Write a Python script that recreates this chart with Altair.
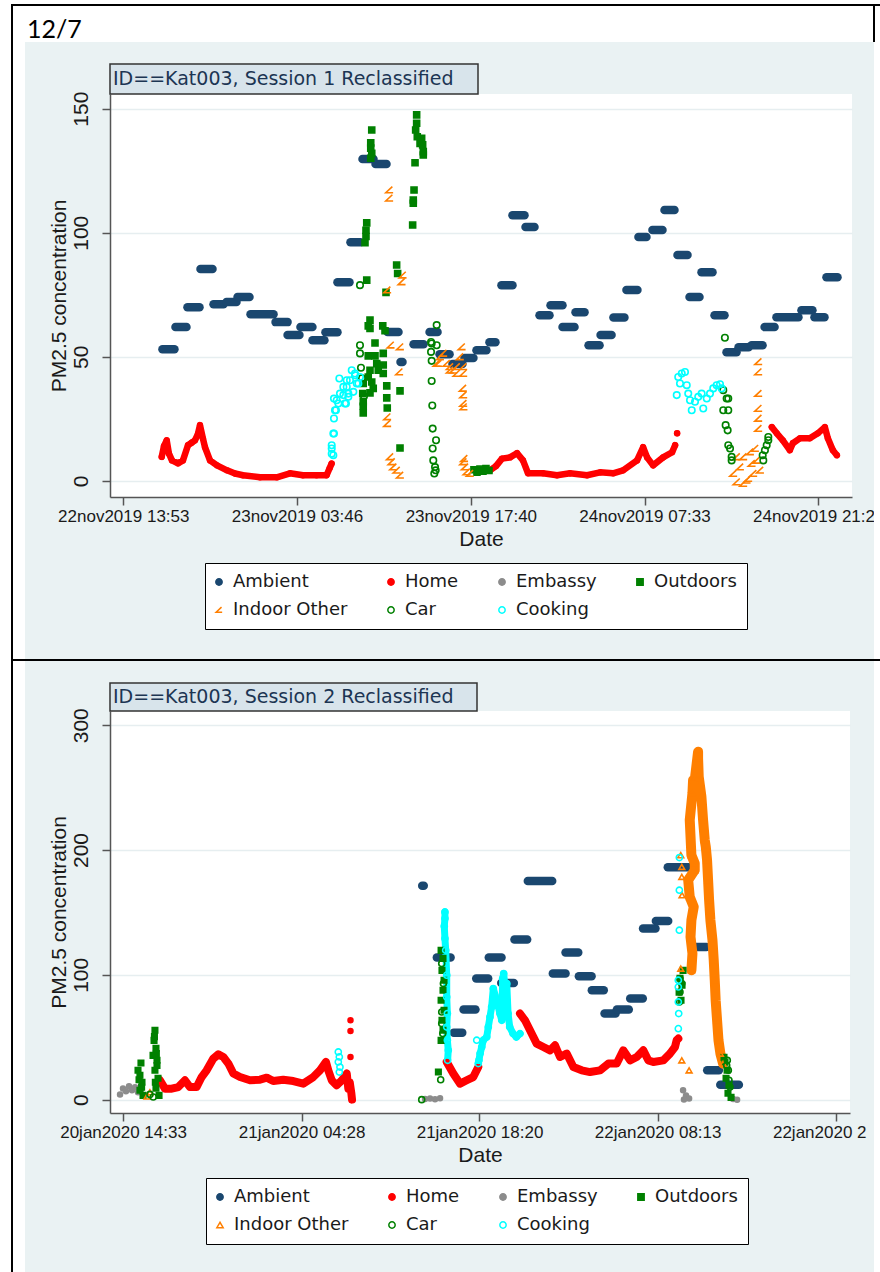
import altair as alt
import pandas as pd

# ------------------------------------------------------------------ categories / styles
CATS = ["Ambient", "Home", "Embassy", "Outdoors", "Indoor Other", "Car", "Cooking"]
FILLS = ["#1a476f", "#ff0000", "#8c8c8c", "#008000", "transparent", "transparent", "transparent"]
STROKES = ["#1a476f", "#ff0000", "#8c8c8c", "#008000", "#ff7f00", "#008000", "#00ffff"]
ANGLE = "M 0.8 -0.9 L -0.9 0.7 L 1 0.7"
SHAPES1 = ["circle", "circle", "circle", "square", ANGLE, "circle", "circle"]
SHAPES2 = ["circle", "circle", "circle", "square", "triangle-up", "circle", "circle"]
SIZES1 = [60, 22, 22, 36, 60, 42, 42]
SIZES2 = [60, 24, 24, 30, 34, 36, 38]

# ------------------------------------------------------------------ panel 1 data (hours after first tick, PM2.5)
P1_TITLE = "ID==Kat003, Session 1 Reclassified"
P1_TICK_TIMES = ["22nov2019 13:53", "23nov2019 03:46", "23nov2019 17:40", "24nov2019 07:33", "24nov2019 21:26"]
P1_TICK_TEXT = ["22nov2019 13:53", "23nov2019 03:46", "23nov2019 17:40", "24nov2019 07:33", "24nov2019 21:2"]
P1_Y_TICKS = [0, 50, 100, 150]

P1_AMB_START = [3.13, 4.17, 5.13, 6.17, 7.21, 8.25, 9.13, 10.17, 12.17, 13.13, 14.16, 15.12, 16.16, 17.12, 18.16, 19.12,
                20.16, 21.12, 22.16, 23.20, 24.48, 25.28, 26.31, 27.27, 28.23, 29.27, 30.23, 31.11, 32.15, 33.27, 34.15, 35.11,
                36.15, 37.19, 38.15, 39.18, 40.22, 41.18, 42.30, 43.26, 44.30, 45.26, 46.22, 47.26, 48.22, 49.18, 50.22, 51.26,
                52.21, 54.21, 55.25, 56.21]
P1_AMB_END = [4.09, 5.05, 6.09, 7.13, 8.01, 9.05, 10.09, 12.01, 13.13, 14.08, 15.12, 16.08, 17.12, 18.08, 18.96, 20.00,
              21.04, 22.00, 22.32, 24.00, 25.12, 26.08, 27.11, 27.99, 29.03, 29.75, 31.11, 32.07, 32.87, 34.07, 35.11, 36.07,
              36.87, 38.07, 39.03, 40.06, 41.10, 41.82, 43.10, 44.06, 45.10, 46.06, 47.10, 48.06, 49.02, 49.98, 51.10, 52.06,
              53.97, 55.09, 56.05, 57.09]
P1_AMB_VAL = [53.1, 62.0, 70.0, 85.4, 71.2, 72.1, 74.1, 67.2, 64.0, 58.8, 62.0, 56.7, 59.9, 80.1, 96.2, 129.7,
              127.7, 60.0, 47.9, 55.1, 60.0, 51.1, 47.1, 49.5, 52.7, 55.9, 78.9, 107.1, 102.3, 66.8, 70.8, 62.0,
              68.0, 54.7, 58.8, 65.9, 76.9, 98.3, 101.1, 109.2, 91.0, 74.1, 84.1, 66.8, 51.9, 53.9, 54.7, 62.0,
              66.0, 68.8, 66.0, 82.1]

P1_HOME_H = [3.07, 3.25, 3.47, 3.65, 3.89, 4.37, 4.77, 5.17, 5.49, 5.73, 5.97, 6.13, 6.37, 6.53, 6.93, 7.49, 8.29, 8.93,
             9.57, 10.93, 12.27, 13.32, 14.36, 15.45, 16.25, 16.49, 16.65,
             29.31, 29.79, 30.27, 30.91, 31.47, 31.95, 32.35, 33.55, 34.67, 35.71, 37.07, 38.11, 39.15, 39.95, 41.07,
             41.55, 41.87, 42.35, 43.15, 43.87, 44.11,
             44.27,
             51.84, 52.24, 52.72, 53.28, 53.52, 54.08, 54.88, 55.52, 56.08, 56.32, 56.72, 57.04]
P1_HOME_V = [9.7, 14.0, 16.4, 11.0, 8.3, 7.1, 8.3, 14.4, 15.5, 16.4, 19.0, 22.5, 17.0, 13.6, 8.3, 6.3, 4.3, 3.0,
             2.3, 1.5, 1.5, 3.1, 2.3, 2.3, 2.3, 5.1, 7.0,
             4.3, 6.0, 9.0, 9.5, 11.2, 8.3, 3.1, 3.1, 2.3, 3.1, 2.3, 3.5, 3.1, 4.3, 8.3,
             13.6, 9.5, 6.3, 9.5, 11.6, 14.4,
             19.2,
             21.7, 19.2, 16.4, 12.4, 15.2, 17.2, 17.2, 19.2, 21.7, 17.2, 12.4, 10.4]
P1_HOME_SEG = [0] * 27 + [1] * 21 + [2] + [3] * 12

P1_OUT_H = [19.86, 19.78, 19.78, 19.86, 19.78, 19.46, 19.40, 19.40, 19.32, 19.46, 21.85, 21.93, 21.00, 19.72, 19.58,
            19.72, 20.74, 20.92, 20.12, 19.58, 20.12, 20.78, 20.26, 20.78, 20.38, 19.72, 20.78, 19.58, 19.86, 19.18,
            19.98, 19.72, 19.14, 19.18, 19.18, 19.18, 21.06, 21.06, 21.10, 22.12, 22.12, 23.32, 23.45, 23.45, 23.37,
            23.50, 23.85, 23.72, 23.93, 23.98, 23.98, 23.24, 23.18, 23.18, 23.13,
            28.03, 28.27, 28.51, 28.75, 28.99, 29.23]
P1_OUT_V = [141.4, 136.2, 134.1, 132.0, 130.0, 104.0, 101.0, 98.5, 96.0, 80.9, 87.0, 83.6, 76.0, 64.8, 62.5,
            61.5, 62.5, 60.5, 55.6, 50.4, 50.4, 51.4, 47.3, 46.7, 44.6, 44.6, 43.3, 41.9, 39.9, 39.3,
            37.3, 35.5, 35.2, 31.9, 30.1, 27.4, 38.3, 33.5, 29.4, 36.3, 13.3, 128.2, 147.5, 144.1, 141.4,
            138.7, 138.1, 136.0, 135.4, 132.7, 131.3, 117.2, 113.2, 111.9, 103.1,
            4.5, 3.5, 4.8, 3.9, 5.0, 4.2]

P1_IND_H = [21.26, 21.26, 22.33, 22.25, 21.10, 21.37, 22.12, 22.06, 21.10, 21.10, 21.32, 21.45, 21.58, 21.85, 22.12,
            25.32, 25.58, 25.85, 26.11, 26.38, 26.65, 26.91, 27.05, 27.18, 25.05, 25.18, 26.11, 26.65, 27.18,
            27.15, 27.18, 27.18, 27.20, 27.18, 27.31, 27.45, 27.71, 27.25,
            50.76, 50.76, 50.76, 50.76, 50.76, 50.76, 48.76, 49.03, 49.30, 49.56, 49.83, 50.10, 50.23, 50.36, 50.63,
            50.90, 49.56, 49.96, 49.03, 50.50]
P1_IND_V = [117.2, 113.9, 82.9, 80.2, 76.9, 54.7, 54.0, 43.9, 25.8, 23.1, 9.7, 7.7, 5.6, 4.3, 2.3,
            50.0, 51.4, 47.3, 46.0, 44.6, 46.0, 50.0, 54.0, 46.0, 47.3, 47.3, 44.6, 43.3, 43.3,
            37.3, 34.6, 31.2, 29.8, 7.7, 5.6, 3.6, 3.0, 9.0,
            48.0, 43.9, 35.2, 29.2, 25.2, 21.1, 3.0, -0.4, 5.6, 9.7, 0.3, 11.7, 7.0, 3.0, 8.3,
            4.3, -1.0, 1.0, 9.7, 13.1]

P1_CAR_H = [18.92, 18.92, 18.92, 19.00, 19.08, 19.24,
            25.05, 24.65, 25.05, 24.60, 24.65, 24.65, 24.70, 24.73, 25.00, 24.73, 24.78, 24.92, 24.86, 24.97, 24.60,
            48.09, 47.96, 48.23, 48.36, 47.96, 48.36, 48.15, 48.31, 48.36, 48.50, 48.63, 48.63,
            51.16, 51.11, 51.29, 51.43, 51.56, 51.56]
P1_CAR_V = [78.9, 54.7, 51.4, 45.6, 41.4, 34.1,
            62.8, 55.4, 54.7, 52.0, 48.4, 40.3, 30.4, 21.1, 16.4, 13.1, 8.3, 5.6, 3.0, 4.3, 56.0,
            57.7, 36.6, 33.2, 33.2, 28.5, 28.5, 22.5, 20.4, 14.4, 13.1, 9.7, 8.3,
            8.3, 10.4, 12.4, 14.4, 17.7, 16.4]

P1_COOK_H = [16.66, 16.66, 16.66, 16.84, 16.84, 17.00, 16.84, 17.19, 17.32, 17.27, 17.59, 17.86, 17.99, 17.80, 18.26,
             18.52, 18.66, 16.79, 16.79, 16.92, 17.06, 17.72, 17.86, 18.12, 18.39, 18.79, 18.92, 17.59, 17.99, 18.52,
             44.24, 44.36, 44.64, 44.90, 44.50, 45.04, 45.16, 45.30, 45.44, 45.70, 45.96, 46.23, 46.36, 46.64, 46.90,
             47.16, 47.43, 47.70, 47.83]
P1_COOK_V = [11.0, 13.1, 14.4, 19.1, 25.2, 28.5, 33.2, 31.2, 35.2, 41.3, 37.9, 40.6, 35.2, 31.2, 44.6,
             42.6, 39.3, 10.4, 19.1, 28.5, 32.5, 31.2, 37.9, 40.6, 35.9, 39.3, 41.9, 34.6, 33.9, 43.3,
             34.6, 41.9, 43.3, 43.9, 39.3, 38.6, 35.2, 32.5, 28.5, 31.9, 33.9, 35.2, 29.2, 33.2, 35.2,
             37.3, 38.6, 39.0, 37.3]

# ------------------------------------------------------------------ panel 2 data
P2_TITLE = "ID==Kat003, Session 2 Reclassified"
P2_TICK_TIMES = ["20jan2020 14:33", "21jan2020 04:28", "21jan2020 18:20", "22jan2020 08:13", "22jan2020 22:06"]
P2_TICK_TEXT = ["20jan2020 14:33", "21jan2020 04:28", "21jan2020 18:20", "22jan2020 08:13", "22jan2020 2"]
P2_Y_TICKS = [0, 100, 200, 300]

P2_AMB_START = [23.32, 24.46, 25.78, 26.54, 27.53, 28.51, 29.48, 30.51, 31.55, 33.50, 34.49, 35.53, 36.54, 37.53,
                38.49, 39.53, 40.53, 41.53, 42.46, 44.54, 45.53, 46.55]
P2_AMB_END = [23.44, 25.53, 26.44, 27.47, 28.46, 29.50, 30.46, 31.50, 33.45, 34.49, 35.48, 36.52, 37.47, 38.39,
              39.42, 40.51, 41.50, 42.49, 44.54, 45.46, 46.44, 48.00]
P2_AMB_VAL = [171.3, 113.9, 53.7, 72.2, 97.0, 113.9, 93.5, 128.3, 175.1, 101.0, 117.9, 98.9, 87.6, 69.0,
              72.2, 81.0, 137.1, 143.2, 186.3, 122.4, 23.5, 12.0]

P2_HOME_H = [2.88, 3.27, 3.80, 4.31, 4.83, 5.22, 5.74, 6.13, 6.52, 7.04, 7.43, 7.82, 8.21, 8.60, 9.12, 9.90, 10.68,
             11.20, 11.71, 12.49, 13.27, 14.05, 14.83, 15.35, 15.82, 16.00, 16.27, 16.66, 17.05, 17.44, 17.56, 17.67,
             17.80, 17.85,
             17.73, 17.73, 17.73,
             25.23, 25.74, 26.27, 26.79, 27.30, 27.69,
             30.94, 31.33, 31.72, 32.24, 32.76, 33.28, 33.67, 34.06, 34.58, 35.10, 35.75, 36.40, 37.18, 37.83, 38.48,
             38.99, 39.52, 40.04, 40.55, 40.94, 41.33, 42.11, 42.63, 43.02, 43.15, 43.28]
P2_HOME_V = [15.5, 8.8, 8.8, 10.1, 15.5, 10.1, 10.1, 18.1, 23.5, 32.9, 36.3, 34.2, 28.9, 20.9, 18.1, 15.5, 16.0,
             17.6, 14.9, 16.0, 14.9, 12.8, 18.1, 23.5, 30.2, 23.5, 15.5, 11.5, 15.5, 20.9, 8.8, 14.1,
             4.8, 0.0,
             63.6, 55.0, 34.2,
             30.2, 20.9, 12.8, 15.5, 18.1, 26.1,
             69.0, 63.6, 55.6, 44.9, 42.2, 39.5, 43.5, 34.2, 36.9, 26.1, 23.5, 22.1, 23.5, 28.9, 28.9,
             39.5, 31.5, 34.2, 39.5, 31.5, 30.2, 31.5, 36.9, 42.2, 47.6, 48.9]
P2_HOME_SEG = [0] * 34 + [-1] * 3 + [1] * 6 + [2] * 26

P2_EMB_H = [-0.23, 0.00, 0.23, 0.47, 0.70, 0.94, 1.17, 1.40, 23.54, 23.93, 24.32, 24.71, 43.65, 43.88, 44.12, 43.72,
            47.55, 47.86]
P2_EMB_V = [4.2, 9.0, 6.7, 10.7, 7.5, 9.9, 5.9, 8.3, 0.5, 1.0, 0.3, 1.2, 7.5, 3.4, 1.0, 0.2, 0.5, 0.0]

P2_OUT_H = [1.32, 1.48, 1.32, 1.56, 1.17, 1.40, 1.25, 1.45, 2.42, 2.49, 2.57, 2.65, 2.49, 2.73, 2.57, 2.81, 2.34, 2.65,
            2.45, 2.60, 2.52,
            24.58, 24.79, 24.94, 24.86, 25.02, 24.79, 24.94, 25.02, 24.86, 24.94, 24.79,
            43.34, 43.41, 43.49, 43.57, 43.65,
            46.84, 46.92, 47.08, 47.00, 47.23, 47.15, 47.39]
P2_OUT_V = [19.5, 13.9, 7.5, 3.4, 23.5, 29.3, 16.0, 10.0, 47.5, 55.6, 41.1, 31.5, 23.5, 17.1, 9.1, 3.4, 35.5, 27.4,
            50.5, 37.0, 14.0,
            22.1, 47.5, 55.6, 63.6, 71.6, 79.6, 87.6, 95.6, 103.6, 113.2, 119.6,
            86.0, 97.2, 79.6, 91.6, 103.6,
            33.9, 29.9, 23.5, 17.1, 11.5, 5.1, 1.8]

P2_IND_H = [1.87, 2.10,
            43.47, 43.55, 43.55, 43.57, 43.47, 43.55, 44.12,
            44.30, 44.38, 44.23, 44.30, 44.48, 44.17, 44.05, 44.56, 44.56, 44.30,
            44.17, 44.38, 44.43, 44.56, 44.82, 44.82, 44.87, 45.08, 45.21, 45.34, 45.42, 45.52, 45.60, 45.68, 45.78,
            45.94, 46.04, 46.12, 46.19, 46.30, 46.41, 46.56, 46.77]
P2_IND_V = [2.6, 5.9,
            195.9, 186.5, 178.5, 163.8, 105.0, 31.5, 23.5,
            103.7, 117.1, 130.4, 143.8, 154.5, 162.5, 175.9, 183.9, 189.3, 195.9,
            224.0, 245.4, 256.1, 256.1, 278.7, 273.5, 258.7, 242.7, 224.0, 207.9, 202.6, 191.9, 175.9, 159.8, 143.8,
            127.9, 111.7, 95.7, 79.6, 63.6, 47.6, 36.9, 28.9]
P2_IND_SEG = [-1] * 9 + [1] * 33

P2_CAR_H = [2.36, 2.10, 23.28, 24.76, 24.84, 24.97, 24.84, 24.84, 24.92, 43.41, 43.41, 43.36, 43.55,
            47.10, 47.18, 47.05, 47.23, 47.31]
P2_CAR_V = [2.1, 4.2, 0.0, 16.0, 109.0, 93.0, 70.2, 61.0, 52.9, 97.0, 86.3, 78.3, 93.0,
            31.5, 23.5, 27.5, 15.5, 10.1]

P2_COOK_H = [16.78, 16.86, 16.78, 16.91, 16.86,
             25.09, 25.09, 25.04, 25.09, 25.15, 25.23, 25.23, 25.28, 25.23, 25.28, 25.35, 25.30,
             27.57, 27.69, 27.74, 27.83, 27.96, 28.08, 28.35, 28.47, 28.60, 28.73, 28.86, 29.12, 29.38, 29.52, 29.59,
             29.67, 29.77, 29.91, 29.91, 30.01, 30.14, 30.40, 30.66, 30.94,
             43.36, 43.36, 43.36, 43.28, 43.28, 43.28, 43.31, 43.28]
P2_COOK_V = [38.2, 34.2, 30.2, 26.1, 22.1,
             150.4, 145.1, 139.0, 129.1, 119.7, 99.7, 82.3, 69.0, 58.2, 47.6, 39.5, 31.5,
             47.6, 28.9, 31.5, 36.9, 42.2, 47.6, 50.2, 58.2, 66.2, 74.3, 89.0, 79.6, 69.0, 63.6, 97.0,
             101.0, 90.3, 79.6, 93.0, 69.0, 58.2, 52.9, 50.2, 52.9,
             194.0, 167.8, 135.8, 95.7, 90.3, 78.3, 69.0, 56.9]
P2_COOK_SEG = [-1] * 5 + [3] * 12 + [-1] + [1] * 23 + [-1] * 8


# ------------------------------------------------------------------ helpers
def tick_hours(labels):
    t = pd.to_datetime(pd.Series(labels), format="%d%b%Y %H:%M")
    return [round((ti - t.iloc[0]).total_seconds() / 3600.0, 4) for ti in t]


def label_expr(ticks, labels):
    s = "''"
    for t, lab in reversed(list(zip(ticks, labels))):
        s = f"abs(datum.value - {t}) < 0.5 ? '{lab}' : {s}"
    return s


def points_frame(series, sizes):
    size_of = dict(zip(CATS, sizes))
    rows = []
    for cat, hs, vs in series:
        for h, v in zip(hs, vs):
            rows.append({"cat": cat, "h": h, "v": v, "sz": size_of[cat]})
    return pd.DataFrame(rows)


def line_frame(hs, vs, segs):
    rows = []
    for i, (h, v, s) in enumerate(zip(hs, vs, segs)):
        if s >= 0:
            rows.append({"h": h, "v": v, "seg": s, "i": i})
    return pd.DataFrame(rows)


ONE = pd.DataFrame({"k": [0]})


def rect(x, x2, y, y2, fill, stroke=None, sw=0):
    kw = dict(fill=fill, strokeWidth=sw)
    if stroke:
        kw["stroke"] = stroke
    return alt.Chart(ONE).mark_rect(**kw).encode(
        x=alt.value(x), x2=alt.value(x2), y=alt.value(y), y2=alt.value(y2))


def text(x, y, s, size, font, color, baseline="middle"):
    return alt.Chart(ONE).mark_text(text=s, align="left", baseline=baseline, fontSize=size,
                                    font=font, color=color).encode(x=alt.value(x), y=alt.value(y))


AXIS_COL = "#555555"
TXT = "#1a1a1a"


def panel(title, tick_times, tick_text, label_shift, y_ticks, xdom, ydom,
          amb, home_line, extra_lines, pts, shapes, legxy, title_box, home_w):
    ticks = tick_hours(tick_times)
    xenc = alt.X("h:Q", scale=alt.Scale(domain=xdom, nice=False, zero=False),
                 axis=alt.Axis(values=ticks, labelExpr=label_expr(ticks, tick_text), title="Date",
                               grid=False, domainColor=AXIS_COL, domainWidth=1.5, tickColor=AXIS_COL,
                               tickWidth=1.5, tickSize=8, labelFont="Liberation Sans", labelFontSize=17,
                               labelColor=TXT, labelPadding=3, labelOverlap=False, labelFlush=False,
                               labelAlign="left", labelOffset=label_shift,
                               titleFont="Liberation Sans", titleFontSize=21, titleFontWeight="normal",
                               titleColor=TXT, titlePadding=4))
    yenc = alt.Y("v:Q", scale=alt.Scale(domain=ydom, nice=False, zero=False),
                 axis=alt.Axis(values=y_ticks, format="d", title="PM2.5 concentration", grid=True,
                               gridColor="#e6eef0", gridWidth=1.5, domainColor=AXIS_COL, domainWidth=1.5,
                               tickColor=AXIS_COL, tickWidth=1.5, tickSize=8, labelAngle=270,
                               labelAlign="center", labelBaseline="bottom", labelPadding=11,
                               labelFont="Liberation Sans", labelFontSize=21, labelColor=TXT,
                               labelOverlap=False, labelFlush=False,
                               titleFont="Liberation Sans", titleFontSize=21, titleFontWeight="normal",
                               titleColor=TXT, titlePadding=1))

    layers = [alt.Chart(amb).mark_rule(strokeWidth=8.5, strokeCap="round", color="#1a476f").encode(
        x=xenc, x2="h2:Q", y=yenc)]
    layers.append(alt.Chart(home_line).mark_line(strokeWidth=home_w, color="#ff0000", strokeCap="round",
                                                 strokeJoin="round").encode(
        x="h:Q", y="v:Q", detail="seg:N", order="i:Q"))
    for df, col, w in extra_lines:
        layers.append(alt.Chart(df).mark_line(strokeWidth=w, color=col, strokeCap="round",
                                              strokeJoin="round").encode(
            x="h:Q", y="v:Q", detail="seg:N", order="i:Q"))
    leg = alt.Legend(title=None, orient="none", legendX=legxy[0], legendY=legxy[1], direction="horizontal",
                     columns=4, gridAlign="each", columnPadding=36, rowPadding=10, padding=10,
                     strokeColor="#000000", fillColor="#ffffff", labelFont="DejaVu Sans", labelFontSize=18,
                     labelColor=TXT, symbolSize=40, symbolStrokeWidth=1.5, labelOffset=5, symbolOffset=-5,
                     labelLimit=400)
    layers.append(alt.Chart(pts).mark_point(strokeWidth=1.6, opacity=1).encode(
        x="h:Q", y="v:Q",
        fill=alt.Fill("cat:N", scale=alt.Scale(domain=CATS, range=FILLS), legend=leg),
        stroke=alt.Stroke("cat:N", scale=alt.Scale(domain=CATS, range=STROKES), legend=leg),
        shape=alt.Shape("cat:N", scale=alt.Scale(domain=CATS, range=shapes), legend=leg),
        size=alt.Size("sz:Q", scale=None),
    ))
    bx, by = title_box
    layers.append(rect(0, bx, -by, 0, "#d8e4eb", "#333333", 1.5))
    layers.append(text(3, -by / 2, title, 19, "DejaVu Sans", "#1c3553"))
    return layers


# ------------------------------------------------------------------ frames
amb1 = pd.DataFrame({"h": P1_AMB_START, "h2": P1_AMB_END, "v": P1_AMB_VAL})
amb2 = pd.DataFrame({"h": P2_AMB_START, "h2": P2_AMB_END, "v": P2_AMB_VAL})

pts1 = points_frame([("Home", P1_HOME_H, P1_HOME_V), ("Outdoors", P1_OUT_H, P1_OUT_V),
                     ("Indoor Other", P1_IND_H, P1_IND_V), ("Car", P1_CAR_H, P1_CAR_V),
                     ("Cooking", P1_COOK_H, P1_COOK_V)], SIZES1)
pts2 = points_frame([("Home", P2_HOME_H, P2_HOME_V), ("Embassy", P2_EMB_H, P2_EMB_V),
                     ("Outdoors", P2_OUT_H, P2_OUT_V), ("Indoor Other", P2_IND_H, P2_IND_V),
                     ("Car", P2_CAR_H, P2_CAR_V), ("Cooking", P2_COOK_H, P2_COOK_V)], SIZES2)

home1 = line_frame(P1_HOME_H, P1_HOME_V, P1_HOME_SEG)
home2 = line_frame(P2_HOME_H, P2_HOME_V, P2_HOME_SEG)
ind2 = line_frame(P2_IND_H, P2_IND_V, P2_IND_SEG)
cook2 = line_frame(P2_COOK_H, P2_COOK_V, P2_COOK_SEG)

# ------------------------------------------------------------------ panel 1 (origin of plot area at page 110,94)
OX, OY = 110, 94
page = [
    rect(0 - OX, 880 - OX, 0 - OY, 42 - OY, "#ffffff"),          # white top margin
    rect(0 - OX, 25 - OX, 0 - OY, 1272 - OY, "#ffffff"),         # white left margin
    rect(874 - OX, 880 - OX, 0 - OY, 1272 - OY, "#ffffff"),      # white right margin
    rect(11 - OX, 13 - OX, 4 - OY, 1272 - OY, "#000000"),        # table borders
    rect(11 - OX, 880 - OX, 4 - OY, 6 - OY, "#000000"),
    rect(873 - OX, 875 - OX, 4 - OY, 42 - OY, "#000000"),
    rect(11 - OX, 880 - OX, 659 - OY, 661 - OY, "#000000"),
    text(27 - OX, 38 - OY, "12/7", 25, "Lato", "#000000", baseline="alphabetic"),
]

l1 = panel(P1_TITLE, P1_TICK_TIMES, P1_TICK_TEXT, -65.7, P1_Y_TICKS, [-1.063, 58.25], [-6.45, 155.9],
           amb1, home1, [], pts1, SHAPES1, (95, 469), (368, 30), 6.5)
p1 = alt.layer(*(page + l1)).properties(width=742, height=403)

l2 = panel(P2_TITLE, P2_TICK_TIMES, P2_TICK_TEXT, -63.3, P2_Y_TICKS, [-1.013, 56.66], [-10.7, 311.4],
           amb2, home2, [(ind2, "#ff7f00", 10), (cook2, "#00ffff", 7)], pts2, SHAPES2, (96, 467),
           (367, 28), 8)
p2 = alt.layer(*l2).properties(width=740, height=402)

chart = alt.vconcat(p1, p2, spacing=214, bounds="flush").resolve_scale(
    x="independent", y="independent", fill="independent", stroke="independent", shape="independent"
).properties(padding=0, background="#eaf2f3").configure_view(stroke=None, fill="#ffffff")

chart.save("out.html", embed_options={"renderer": "svg", "actions": False})
